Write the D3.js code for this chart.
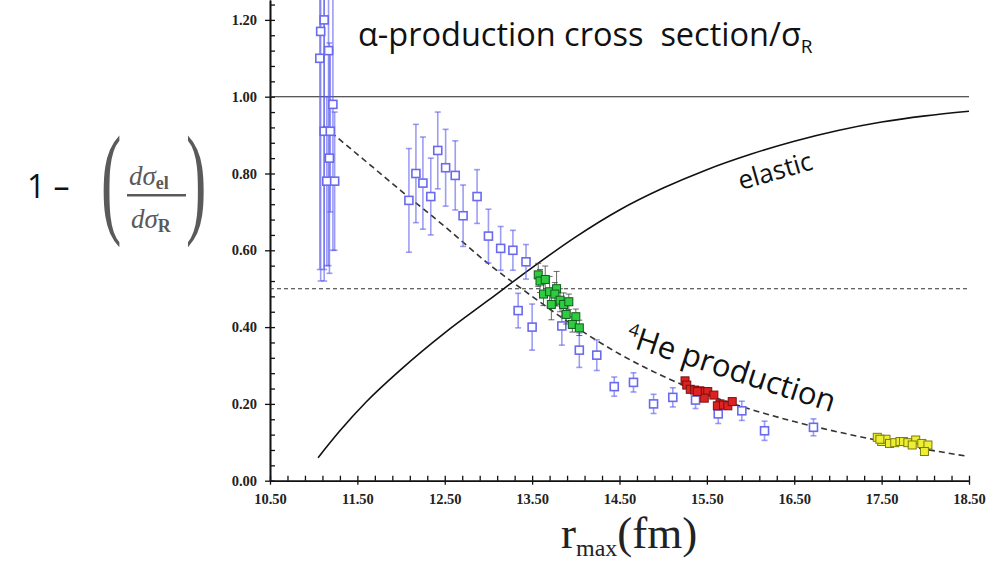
<!DOCTYPE html>
<html>
<head>
<meta charset="utf-8">
<script src="https://cdn.jsdelivr.net/npm/d3@7"></script>
<style>
  body { margin: 0; background: #fff; }
  svg { display: block; }
</style>
</head>
<body>
<div id="chart"></div>
<script>

// values
let blueX   = [11.07, 11.08, 11.12, 11.17, 11.22, 11.12, 11.19, 11.18, 11.15, 11.24,
               12.09, 12.17, 12.25, 12.34, 12.42, 12.51, 12.62, 12.71, 12.87, 13.00,
               13.14, 13.28, 13.43, 13.34, 13.50, 13.84, 14.04, 14.24, 14.44, 14.66,
               14.89, 15.11, 15.37, 15.63, 15.90, 16.16, 16.72]
let blueY   = [1.10, 1.17, 1.20, 1.12, 0.98, 0.91, 0.91, 0.84, 0.78, 0.78,
               0.73, 0.80, 0.775, 0.74, 0.86, 0.815, 0.795, 0.69, 0.74, 0.637,
               0.605, 0.60, 0.57, 0.443, 0.40, 0.403, 0.34, 0.327, 0.245, 0.256,
               0.20, 0.217, 0.21, 0.174, 0.182, 0.13, 0.139]
let blueErr = [0.55, 0.65, 0.68, 0.56, 0.38, 0.36, 0.21, 0.30, 0.22, 0.18,
               0.135, 0.128, 0.12, 0.10, 0.10, 0.10, 0.09, 0.08, 0.07, 0.07,
               0.057, 0.052, 0.045, 0.045, 0.06, 0.05, 0.045, 0.04, 0.025, 0.025,
               0.025, 0.025, 0.022, 0.025, 0.025, 0.025, 0.022]

let greenX   = [13.57, 13.59, 13.65, 13.63, 13.70, 13.72, 13.78, 13.76, 13.82, 13.86, 13.92, 13.89, 14.00, 13.96, 14.04]
let greenY   = [0.536, 0.52, 0.524, 0.486, 0.492, 0.459, 0.50, 0.486, 0.47, 0.459, 0.466, 0.433, 0.427, 0.407, 0.398]
let greenErr = [0.03, 0.03, 0.035, 0.03, 0.04, 0.04, 0.045, 0.03, 0.03, 0.03, 0.02, 0.025, 0.02, 0.02, 0.02]

let redX = [15.25, 15.27, 15.31, 15.36, 15.42, 15.48, 15.51, 15.58, 15.47, 15.65, 15.62, 15.69, 15.74, 15.79, 15.39]
let redY = [0.26, 0.249, 0.238, 0.236, 0.234, 0.232, 0.232, 0.223, 0.215, 0.20, 0.195, 0.197, 0.195, 0.206, 0.232]

let yellowX = [17.45, 17.50, 17.55, 17.59, 17.65, 17.71, 17.75, 17.80, 17.89, 17.85, 17.96, 18.03, 17.99, 17.48]
let yellowY = [0.113, 0.102, 0.108, 0.097, 0.099, 0.102, 0.102, 0.099, 0.106, 0.093, 0.097, 0.093, 0.076, 0.108]

// smooth curves
let elasticX = [11.05, 11.3, 11.6, 12.0, 12.5, 13.0, 13.5, 14.0, 14.5, 15.0, 15.5, 16.0, 16.5, 17.0, 17.5, 18.0, 18.5]
let elasticY = [0.06, 0.13, 0.205, 0.29, 0.385, 0.47, 0.555, 0.635, 0.705, 0.762, 0.81, 0.85, 0.884, 0.912, 0.934, 0.95, 0.962]

let productionX = [11.11, 11.5, 12.0, 12.5, 13.0, 13.5, 14.0, 14.5, 15.0, 15.5, 16.0, 16.5, 17.0, 17.5, 18.0, 18.47]
let productionY = [0.924, 0.85, 0.755, 0.662, 0.565, 0.48, 0.40, 0.33, 0.272, 0.224, 0.186, 0.154, 0.127, 0.103, 0.082, 0.064]

let xTicks = [10.5, 11.5, 12.5, 13.5, 14.5, 15.5, 16.5, 17.5, 18.5]
let yTicks = [0, 0.2, 0.4, 0.6, 0.8, 1.0, 1.2]

// size of the picture
let width = 1007
    height = 563

let svg = d3.select("#chart")
  .append("svg")
    .attr("width", width)
    .attr("height", height)

let x = d3.scaleLinear().domain([10.5, 18.5]).range([270, 969])
let y = d3.scaleLinear().domain([0, 1.2518]).range([480.7, 0])

// minor ticks
let xMinor = d3.range(10.5, 18.51, 0.2)
let yMinor = d3.range(0, 1.25, 0.04)

// axes: labelled outer part of the ticks
let fmt = d3.format(".2f")
svg.append("g")
  .attr("transform", "translate(0," + y(0) + ")")
  .call(d3.axisBottom(x).tickValues(xTicks).tickFormat(fmt).tickSizeInner(4).tickSizeOuter(0).tickPadding(9))
svg.append("g")
  .attr("transform", "translate(" + x(10.5) + ",0)")
  .call(d3.axisLeft(y).tickValues(yTicks).tickFormat(fmt).tickSizeInner(5).tickSizeOuter(0).tickPadding(8))

// inner ticks
svg.append("g")
  .attr("transform", "translate(0," + y(0) + ")")
  .call(d3.axisBottom(x).tickValues(xMinor).tickFormat("").tickSizeInner(-5).tickSizeOuter(0))
svg.append("g")
  .attr("transform", "translate(" + x(10.5) + ",0)")
  .call(d3.axisLeft(y).tickValues(yMinor).tickFormat("").tickSizeInner(-5).tickSizeOuter(0))

svg.selectAll(".domain").attr("stroke", "#111").attr("stroke-width", 1.6)
svg.selectAll(".tick line").attr("stroke", "#111").attr("stroke-width", 1.3)
svg.selectAll(".tick text")
  .style("font-family", "'Liberation Serif', 'Times New Roman', serif")
  .style("font-weight", "bold")
  .style("font-size", "14.5px")
  .attr("fill", "#222")

// reference lines
svg.append("line")
  .attr("x1", x(10.5)).attr("x2", x(18.5))
  .attr("y1", y(1)).attr("y2", y(1))
  .attr("stroke", "#222").attr("stroke-width", 1.1)
svg.append("line")
  .attr("x1", x(10.5)).attr("x2", x(18.5))
  .attr("y1", y(0.5)).attr("y2", y(0.5))
  .attr("stroke", "#333").attr("stroke-width", 1.1)
  .attr("stroke-dasharray", "4,3")

// curves
let lineGen = function(xs, ys) {
  return d3.line()
    .x(function(d) { return x(d) })
    .y(function(d, i) { return y(ys[i]) })
    .curve(d3.curveMonotoneX)(xs)
}
svg.append("path")
  .attr("d", lineGen(elasticX, elasticY))
  .attr("fill", "none")
  .attr("stroke", "#111")
  .attr("stroke-width", 1.6)
svg.append("path")
  .attr("d", lineGen(productionX, productionY))
  .attr("fill", "none")
  .attr("stroke", "#333")
  .attr("stroke-width", 1.6)
  .attr("stroke-dasharray", "6,4")

// error bars helper
function errorBars(xs, ys, errs, colour, opacity, widthPx) {
  let g = svg.append("g")
    .attr("stroke", colour)
    .attr("stroke-opacity", opacity)
    .attr("stroke-width", widthPx)
  g.selectAll("line.bar")
    .data(xs)
    .enter()
    .append("line")
      .attr("class", "bar")
      .attr("x1", function(d) { return x(d) })
      .attr("x2", function(d) { return x(d) })
      .attr("y1", function(d, i) { return y(ys[i] + errs[i]) })
      .attr("y2", function(d, i) { return y(ys[i] - errs[i]) })
  ;[1, -1].forEach(function(s) {
    g.selectAll("line.cap" + s)
      .data(xs)
      .enter()
      .append("line")
        .attr("x1", function(d) { return x(d) - 3 })
        .attr("x2", function(d) { return x(d) + 3 })
        .attr("y1", function(d, i) { return y(ys[i] + s * errs[i]) })
        .attr("y2", function(d, i) { return y(ys[i] + s * errs[i]) })
  })
}

// squares helper
function squares(xs, ys, fill, stroke, size, strokeWidth) {
  svg.append("g")
    .selectAll("rect")
    .data(xs)
    .enter()
    .append("rect")
      .attr("x", function(d) { return x(d) - size / 2 })
      .attr("y", function(d, i) { return y(ys[i]) - size / 2 })
      .attr("width", size)
      .attr("height", size)
      .attr("fill", fill)
      .attr("stroke", stroke)
      .attr("stroke-width", strokeWidth)
}

errorBars(blueX, blueY, blueErr, "#5b5bef", 0.6, 1.6)
squares(blueX, blueY, "#fff", "#6a6aee", 8, 1.6)

errorBars(greenX, greenY, greenErr, "#444", 0.8, 1)
squares(greenX, greenY, "#2ecc40", "#145a1e", 8, 1)

squares(redX, redY, "#dd2222", "#7a1010", 8, 1)
squares(yellowX, yellowY, "#eeee33", "#7a7a10", 8, 1)

// title
let sans = "'Open Sans', 'Noto Sans', sans-serif"
let title = svg.append("text")
  .attr("x", 358)
  .attr("y", 46)
  .style("font-family", sans)
  .style("font-size", "32.5px")
  .attr("fill", "#111")
title.append("tspan").text("α-production cross\u00a0 section/σ")
title.append("tspan").attr("dy", 7).style("font-size", "19px").text("R")

// curve labels
svg.append("text")
  .attr("transform", "translate(741,190) rotate(-16)")
  .style("font-family", sans)
  .style("font-size", "26px")
  .attr("fill", "#111")
  .text("elastic")

let he = svg.append("text")
  .attr("transform", "translate(624,345) rotate(18)")
  .style("font-family", sans)
  .style("font-size", "31px")
  .attr("fill", "#111")
he.append("tspan").attr("dy", -11).style("font-size", "18px").text("4")
he.append("tspan").attr("dy", 11).text("He production")

// left formula
svg.append("text")
  .attr("x", 27)
  .attr("y", 198)
  .style("font-family", sans)
  .style("font-size", "32px")
  .attr("fill", "#111")
  .text("1 –")

let serif = "'Liberation Serif', 'DejaVu Serif', serif"
let formula = svg.append("g").attr("fill", "#5a5a5a")
formula.append("text")
  .attr("transform", "translate(101,221) scale(0.5,1)")
  .style("font-family", serif)
  .style("font-size", "122px")
  .text("(")
formula.append("text")
  .attr("transform", "translate(186,221) scale(0.5,1)")
  .style("font-family", serif)
  .style("font-size", "122px")
  .text(")")
let num = formula.append("text")
  .attr("x", 129)
  .attr("y", 185)
  .style("font-family", serif)
  .style("font-size", "27px")
num.append("tspan").style("font-style", "italic").text("dσ")
num.append("tspan").attr("dy", 4).style("font-size", "18px").style("font-weight", "bold").text("el")
formula.append("rect")
  .attr("x", 127)
  .attr("y", 194)
  .attr("width", 59)
  .attr("height", 2.5)
let den = formula.append("text")
  .attr("x", 131)
  .attr("y", 228)
  .style("font-family", serif)
  .style("font-size", "27px")
den.append("tspan").style("font-style", "italic").text("dσ")
den.append("tspan").attr("dy", 4).style("font-size", "18px").style("font-weight", "bold").text("R")

// x axis title
let xt = svg.append("text")
  .attr("x", 561)
  .attr("y", 548)
  .style("font-family", serif)
  .style("font-size", "45px")
  .attr("fill", "#222")
xt.append("tspan").text("r")
xt.append("tspan").attr("dy", 8).style("font-size", "24px").text("max")
xt.append("tspan").attr("dy", -8).text("(fm)")

</script>
</body>
</html>
